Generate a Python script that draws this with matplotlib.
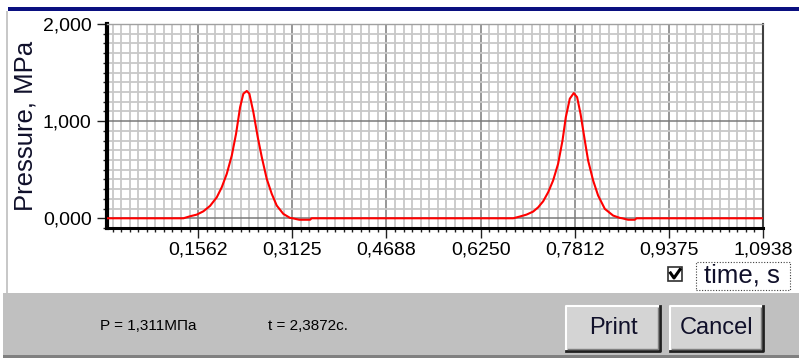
import matplotlib
matplotlib.use('Agg')
import matplotlib.pyplot as plt
import matplotlib.patches as mpatches
from matplotlib.lines import Line2D
from matplotlib.ticker import MultipleLocator, FixedLocator, FixedFormatter

plt.rcParams['font.family'] = ['Liberation Sans', 'DejaVu Sans']

# pressure pulse (time in s, pressure in MPa)
time_s = [0.005, 0.1318, 0.1430, 0.1541, 0.1650, 0.1761, 0.1872, 0.1955, 0.2038,
          0.2121, 0.2192, 0.2259, 0.2313, 0.2370, 0.2413, 0.2479, 0.2552, 0.2619,
          0.2701, 0.2784, 0.2867, 0.2977, 0.3088, 0.3130, 0.3242, 0.3420, 0.3447,
          0.6791, 0.6902, 0.7013, 0.7123, 0.7206, 0.7289, 0.7372, 0.7454, 0.7537,
          0.7610, 0.7665, 0.7731, 0.7797, 0.7852, 0.7909, 0.7980, 0.8035, 0.8118,
          0.8201, 0.8312, 0.8450, 0.8561, 0.8600, 0.8698, 0.8809, 0.8838, 1.0938]
pressure = [0.0, 0.0, 0.021, 0.038, 0.072, 0.128, 0.216, 0.320, 0.458,
            0.646, 0.870, 1.144, 1.282, 1.311, 1.282, 1.093, 0.835, 0.629,
            0.406, 0.252, 0.131, 0.045, 0.004, 0.0, -0.015, -0.015, 0.0,
            0.0, 0.018, 0.038, 0.069, 0.113, 0.175, 0.268, 0.389, 0.561,
            0.801, 1.041, 1.231, 1.289, 1.247, 1.076, 0.801, 0.595, 0.389,
            0.234, 0.097, 0.028, 0.004, 0.0, -0.015, -0.015, 0.0, 0.0]

x_ticks = [0.15625, 0.3125, 0.46875, 0.625, 0.78125, 0.9375, 1.09375]
x_labels = ['0,1562', '0,3125', '0,4688', '0,6250', '0,7812', '0,9375', '1,0938']
y_ticks = [0.0, 1.0, 2.0]
y_labels = ['0,000', '1,000', '2,000']

W, H = 799, 358
fig = plt.figure(figsize=(W / 100, H / 100), dpi=100)
fig.patch.set_facecolor('white')


def fx(px):
    return px / W


def fy(py):
    return 1 - py / H


def prect(x0, y0, x1, y1, **kw):
    fig.patches.append(mpatches.Rectangle((fx(x0), fy(y1)), fx(x1) - fx(x0), fy(y0) - fy(y1),
                                          transform=fig.transFigure, **kw))


def pline(xs, ys, **kw):
    fig.lines.append(Line2D([fx(v) for v in xs], [fy(v) for v in ys],
                            transform=fig.transFigure, **kw))


# window chrome
prect(8, 7, 799, 11, facecolor='#0a1080', edgecolor='none')
prect(6, 11, 8, 293, facecolor='#c8c8c8', edgecolor='none')
prect(3, 293, 799, 356, facecolor='#c0c0c0', edgecolor='none')
prect(3, 355, 799, 358, facecolor='#808080', edgecolor='none')

ax = fig.add_axes([fx(107), fy(228), fx(763) - fx(107), fy(24) - fy(228)])
ax.plot(time_s, pressure, color='#ff0000', lw=1.5, zorder=3)

ax.set_xlim(0.005, 1.09375)
ax.set_ylim(-0.1, 2.0)
ax.xaxis.set_major_locator(FixedLocator(x_ticks))
ax.xaxis.set_major_formatter(FixedFormatter(x_labels))
ax.xaxis.set_minor_locator(MultipleLocator(0.15625 / 11))
ax.yaxis.set_major_locator(FixedLocator(y_ticks))
ax.yaxis.set_major_formatter(FixedFormatter(y_labels))
ax.yaxis.set_minor_locator(MultipleLocator(0.1))

ax.grid(which='minor', color='#c8c8c8', lw=1.3)
ax.grid(which='major', color='#7a7a7a', lw=1.1)
ax.set_axisbelow(True)

ax.spines['left'].set_linewidth(3)
ax.spines['bottom'].set_linewidth(2.2)
ax.spines['right'].set_color('#404040')
ax.spines['right'].set_linewidth(1.5)
ax.spines['top'].set_color('#a0a0a0')
ax.spines['top'].set_linewidth(1.0)

ax.tick_params(which='major', length=7, width=1, color='#202020', labelsize=14)
ax.tick_params(which='minor', length=3, width=1, color='#202020')
ax.tick_params(axis='x', which='major', pad=3)
ax.tick_params(axis='y', which='major', pad=4)

fig.text(fx(26), fy(126), 'Pressure, MPa', rotation=90, ha='center', va='center',
         fontsize=18.5, color='#10102a')

# "time, s" checkbox legend
prect(668, 267, 682, 281, facecolor='white', edgecolor='#303030', lw=1.2)
pline([670.5, 674, 680], [273, 278, 269.5], color='black', lw=2.2)
prect(696, 262, 790, 290, facecolor='none', edgecolor='#404040', lw=0.8, linestyle=(0, (1, 1.5)))
fig.text(fx(742), fy(276), 'time, s', ha='center', va='center', fontsize=18.5, color='#10102a')

# status bar
fig.text(fx(148), fy(326), 'P = 1,311МПа', ha='center', va='center', fontsize=11)
fig.text(fx(308), fy(326), 't = 2,3872с.', ha='center', va='center', fontsize=11)

for (x0, x1, label) in [(566, 660, 'Print'), (670, 763, 'Cancel')]:
    y0, y1 = 306, 351
    prect(x0, y0, x1, y1, facecolor='#d4d4d4', edgecolor='none')
    pline([x0, x0, x1], [y1, y0, y0], color='white', lw=1.5)
    pline([x0, x1, x1], [y1, y1, y0], color='#202020', lw=2)
    pline([x0 + 2, x1 - 2, x1 - 2], [y1 - 2, y1 - 2, y0 + 2], color='#808080', lw=1)
    fig.text(fx((x0 + x1) / 2), fy(328), label, ha='center', va='center',
             fontsize=17, color='#10102a')

fig.savefig('out.png', dpi=100)
